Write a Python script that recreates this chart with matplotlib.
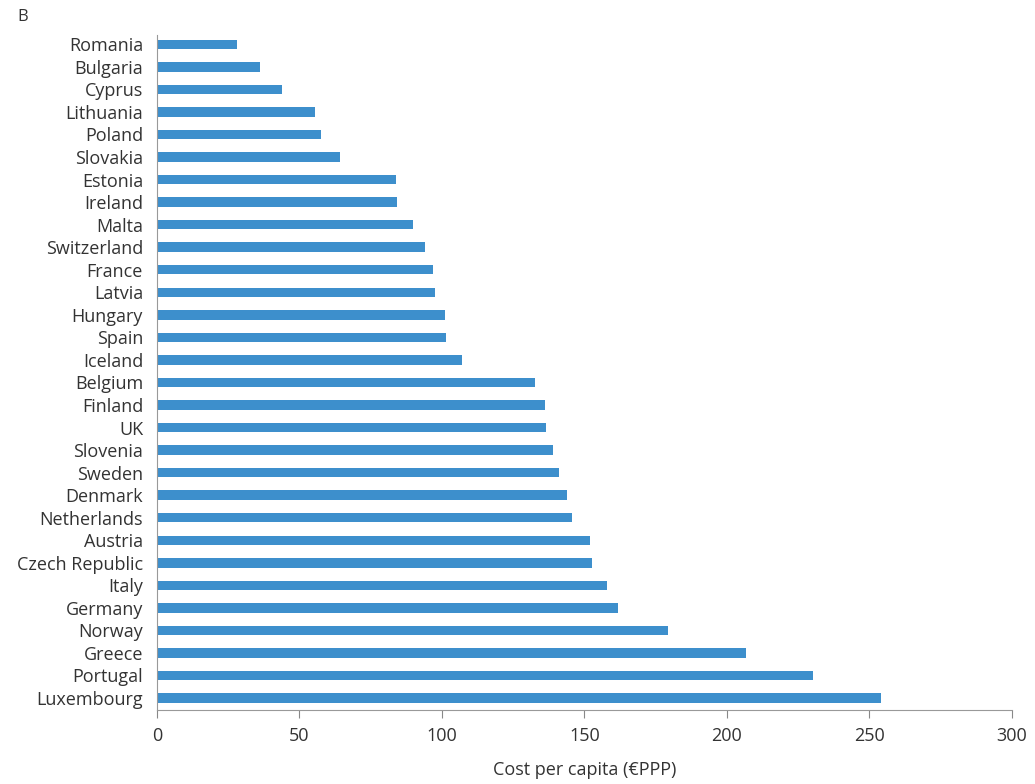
import matplotlib.pyplot as plt
import numpy as np

plt.rcParams['font.family'] = ['Open Sans', 'DejaVu Sans']

countries = ["Romania", "Bulgaria", "Cyprus", "Lithuania", "Poland", "Slovakia",
             "Estonia", "Ireland", "Malta", "Switzerland", "France", "Latvia",
             "Hungary", "Spain", "Iceland", "Belgium", "Finland", "UK", "Slovenia",
             "Sweden", "Denmark", "Netherlands", "Austria", "Czech Republic",
             "Italy", "Germany", "Norway", "Greece", "Portugal", "Luxembourg"]
cost = [27.9, 36.0, 43.9, 55.5, 57.6, 64.3,
        83.7, 84.2, 89.7, 94.2, 96.7, 97.7,
        101.0, 101.3, 106.9, 132.5, 136.0, 136.6, 139.0,
        141.0, 143.9, 145.7, 151.9, 152.7,
        157.9, 161.7, 179.3, 206.6, 230.3, 253.9]
xticks = [0, 50, 100, 150, 200, 250, 300]

txt = '#333333'
fig = plt.figure(figsize=(10.35, 7.84), dpi=100)
ax = fig.add_axes([0.1517, 0.0944, 0.826, 0.8606])

y = np.arange(len(countries))
ax.barh(y, cost, height=0.42, color='#3d8fcc')

ax.set_ylim(len(countries) - 1 + 0.53, -0.4)
ax.set_xlim(0, 300)
ax.set_yticks(y)
ax.set_yticklabels(countries, fontsize=13, color=txt)
ax.set_xticks(xticks)
ax.set_xticklabels([str(v) for v in xticks], fontsize=13, color=txt)
ax.tick_params(axis='y', length=0, pad=10)
ax.tick_params(axis='x', length=6, color='#888888', pad=6)

for s in ['top', 'right']:
    ax.spines[s].set_visible(False)
ax.spines['left'].set_color('#999999')
ax.spines['bottom'].set_color('#999999')

ax.set_xlabel("Cost per capita (€PPP)", fontsize=13, color=txt, labelpad=12)
fig.text(0.017, 0.978, "B", fontsize=12, color=txt, va='center')

fig.savefig("out.png", dpi=100)
